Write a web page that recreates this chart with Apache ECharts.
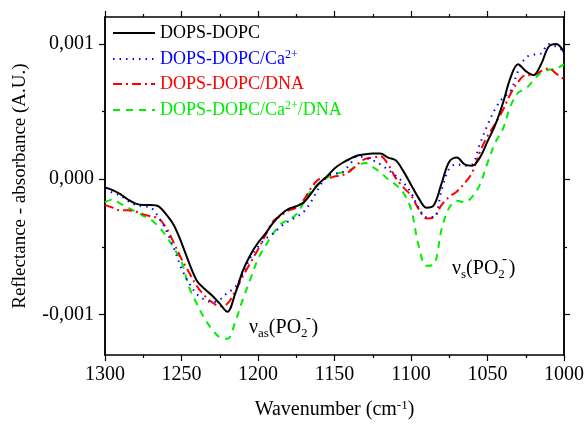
<!DOCTYPE html>
<html>
<head>
<meta charset="utf-8">
<script src="https://cdn.jsdelivr.net/npm/echarts@6/dist/echarts.min.js"></script>
<style>
	html, body { margin: 0; padding: 0; background: #fff; }
	#container { width: 587px; height: 425px; }
</style>
</head>
<body>
<div id="container"></div>
<script>
// wavenumbers (cm-1), step 5
var waves = [1300, 1295, 1290, 1285, 1280, 1275, 1270, 1265, 1260, 1255,
	1250, 1245, 1240, 1235, 1230, 1225, 1220, 1215, 1210, 1205,
	1200, 1195, 1190, 1185, 1180, 1175, 1170, 1165, 1160, 1155,
	1150, 1145, 1140, 1135, 1130, 1125, 1120, 1115, 1110, 1105,
	1100, 1095, 1090, 1085, 1080, 1075, 1070, 1065, 1060, 1055,
	1050, 1045, 1040, 1035, 1030, 1025, 1020, 1015, 1010, 1005, 1000];

// values in units of 0,001 A.U.
var dopsDopc = [-0.06, -0.08, -0.11, -0.15, -0.18, -0.19, -0.19, -0.20, -0.26, -0.34,
	-0.47, -0.62, -0.75, -0.81, -0.86, -0.92, -0.98, -0.85, -0.68, -0.56,
	-0.47, -0.40, -0.32, -0.26, -0.22, -0.20, -0.17, -0.10, -0.03, 0.02,
	0.08, 0.12, 0.15, 0.175, 0.185, 0.19, 0.19, 0.16, 0.14, 0.06,
	-0.04, -0.14, -0.21, -0.19, -0.03, 0.13, 0.16, 0.11, 0.10, 0.16,
	0.28, 0.40, 0.56, 0.75, 0.85, 0.80, 0.77, 0.85, 0.98, 1.00, 0.94];

var dopsDopcCa = [-0.07, -0.10, -0.12, -0.16, -0.19, -0.20, -0.21, -0.28, -0.38, -0.51,
	-0.66, -0.77, -0.85, -0.89, -0.91, -0.89, -0.84, -0.80, -0.70, -0.58,
	-0.50, -0.44, -0.40, -0.35, -0.31, -0.28, -0.24, -0.16, -0.06, 0.02,
	0.04, 0.05, 0.11, 0.17, 0.16, 0.14, 0.11, 0.07, 0.025, -0.025,
	-0.10, -0.21, -0.28, -0.28, -0.08, 0.08, 0.11, 0.10, 0.11, 0.26,
	0.40, 0.52, 0.60, 0.65, 0.80, 0.90, 0.92, 0.93, 1.00, 0.98, 0.95];

var dopsDopcDna = [-0.19, -0.21, -0.23, -0.23, -0.24, -0.26, -0.275, -0.29, -0.36, -0.47,
	-0.59, -0.69, -0.79, -0.86, -0.91, -0.94, -0.92, -0.83, -0.72, -0.62,
	-0.52, -0.41, -0.31, -0.27, -0.23, -0.21, -0.15, -0.06, 0.00, 0.005,
	0.02, 0.03, 0.06, 0.11, 0.15, 0.16, 0.17, 0.11, 0.01, -0.06,
	-0.12, -0.22, -0.29, -0.28, -0.19, -0.13, -0.09, -0.03, 0.05, 0.20,
	0.32, 0.41, 0.51, 0.63, 0.72, 0.77, 0.77, 0.80, 0.82, 0.78, 0.74];

var dopsDopcCaDna = [-0.17, -0.15, -0.18, -0.21, -0.24, -0.27, -0.30, -0.35, -0.42, -0.51,
	-0.61, -0.80, -0.92, -1.03, -1.11, -1.17, -1.18, -1.06, -0.89, -0.74,
	-0.59, -0.49, -0.40, -0.33, -0.30, -0.26, -0.17, -0.08, -0.03, 0.01,
	0.04, 0.05, 0.07, 0.10, 0.12, 0.09, 0.05, 0.00, -0.04, -0.10,
	-0.22, -0.49, -0.64, -0.63, -0.37, -0.21, -0.16, -0.17, -0.13, -0.04,
	0.12, 0.27, 0.37, 0.54, 0.64, 0.67, 0.73, 0.79, 0.81, 0.82, 0.85];

var yMajorTicks = [-1, 0, 1];
var yMinorTicks = [-0.5, 0.5];

var seriesNames = ['DOPS-DOPC', 'DOPS-DOPC/Ca2+', 'DOPS-DOPC/DNA', 'DOPS-DOPC/Ca2+/DNA'];
var seriesValues = [dopsDopc, dopsDopcCa, dopsDopcDna, dopsDopcCaDna];
var seriesColors = ['#000000', '#0000ff', '#ff0000', '#00ee00'];
var seriesDash = ['solid', [1.5, 5], [9, 4, 2, 4], [7, 6]];

var serif = 'Liberation Serif';

function pairs(vals) {
	var out = [];
	for (var i = 0; i < waves.length; i++) {
		out.push([waves[i], vals[i]]);
	}
	return out;
}

// axis label: 1 -> 0,001
function fmtY(v) {
	return (v / 1000).toFixed(3).replace('.', ',');
}

var legendText = {
	'DOPS-DOPC': '{k|DOPS-DOPC}',
	'DOPS-DOPC/Ca2+': '{b|DOPS-DOPC/Ca}{bs|2+}',
	'DOPS-DOPC/DNA': '{r|DOPS-DOPC/DNA}',
	'DOPS-DOPC/Ca2+/DNA': '{g|DOPS-DOPC/Ca}{gs|2+}{g|/DNA}'
};

var dom = document.getElementById('container');
var myChart = echarts.init(dom, null, { renderer: 'canvas' });

var xBase = {
	type : 'value',
	min : 1000,
	max : 1300,
	interval : 50,
	inverse : true,
	splitLine : { show : false },
	axisLine : { show : true, onZero : false, lineStyle : { color : '#000', width : 1.5 } },
	axisTick : { show : true, length : 6, lineStyle : { color : '#000', width : 1.2 } },
	minorTick : { show : true, splitNumber : 2, length : 3, lineStyle : { color : '#000', width : 1.2 } }
};

function yAxisDef(pos, ticks, len, labels) {
	return {
		type : 'value',
		position : pos,
		min : -1.3,
		max : 1.2,
		splitLine : { show : false },
		axisLine : { show : true, onZero : false, lineStyle : { color : '#000', width : 1.5 } },
		axisTick : { show : true, customValues : ticks, length : len, lineStyle : { color : '#000', width : 1.2 } },
		axisLabel : labels ? {
			show : true,
			customValues : yMajorTicks,
			formatter : fmtY,
			margin : 11,
			color : '#000',
			fontFamily : serif,
			fontSize : 20
		} : { show : false }
	};
}

var series = [];
for (var i = 0; i < seriesNames.length; i++) {
	series.push({
		name : seriesNames[i],
		type : 'line',
		xAxisIndex : 0,
		yAxisIndex : 0,
		smooth : 0.35,
		symbol : 'none',
		color : seriesColors[i],
		lineStyle : { color : seriesColors[i], width : 2, type : seriesDash[i] },
		z : 10 - i,
		data : pairs(seriesValues[i])
	});
}

// bottom axis with labels and title
var xBottom = JSON.parse(JSON.stringify(xBase));
xBottom.position = 'bottom';
xBottom.axisLabel = {
	show : true, margin : 10, color : '#000', fontFamily : serif, fontSize : 20,
	formatter : function(v) { return String(v); }
};
xBottom.name = '{a|Wavenumber (cm}{s|-1}{a|)}';
xBottom.nameLocation = 'middle';
xBottom.nameGap = 44;
xBottom.nameTextStyle = {
	rich : {
		a : { fontFamily : serif, fontSize : 20, color : '#000', lineHeight : 22 },
		s : { fontFamily : serif, fontSize : 13, color : '#000', lineHeight : 22, verticalAlign : 'top' }
	}
};
// mirrored top axis
var xTop = JSON.parse(JSON.stringify(xBase));
xTop.position = 'top';
xTop.axisLabel = { show : false };

var yLeft = yAxisDef('left', yMajorTicks, 6, true);
yLeft.name = 'Reflectance - absorbance (A.U.)';
yLeft.nameLocation = 'middle';
yLeft.nameGap = 75;
yLeft.nameTextStyle = { fontFamily : serif, fontSize : 19, color : '#000' };

// band annotations
var annRich = {
	n : { fontFamily : serif, fontSize : 20, fill : '#000', lineHeight : 24 },
	sub : { fontFamily : serif, fontSize : 13, fill : '#000', lineHeight : 24, verticalAlign : 'bottom' },
	sp : { fontFamily : serif, fontSize : 13, fill : '#000', lineHeight : 24, width : 4 }
};

var option = {
	animation : false,
	backgroundColor : '#fff',
	grid : { left : 105, right : 21, top : 17, bottom : 69 },
	legend : {
		orient : 'vertical',
		left : 112,
		top : 24,
		padding : 0,
		itemWidth : 42,
		itemHeight : 12,
		itemGap : 7,
		itemStyle : { opacity : 0 },
		data : seriesNames,
		formatter : function(name) {
			return legendText[name];
		},
		textStyle : {
			fontFamily : serif,
			fontSize : 18,
			rich : {
				k : { color : '#000', fontFamily : serif, fontSize : 18, lineHeight : 20 },
				b : { color : '#0000ff', fontFamily : serif, fontSize : 18, lineHeight : 20 },
				bs : { color : '#0000ff', fontFamily : serif, fontSize : 12, lineHeight : 20, verticalAlign : 'top' },
				r : { color : '#ff0000', fontFamily : serif, fontSize : 18, lineHeight : 20 },
				g : { color : '#00ee00', fontFamily : serif, fontSize : 18, lineHeight : 20 },
				gs : { color : '#00ee00', fontFamily : serif, fontSize : 12, lineHeight : 20, verticalAlign : 'top' }
			}
		}
	},
	xAxis : [xBottom, xTop],
	yAxis : [
		yLeft,
		yAxisDef('left', yMinorTicks, 3, false),
		yAxisDef('right', yMajorTicks, 6, false),
		yAxisDef('right', yMinorTicks, 3, false)
	],
	graphic : [
		{
			type : 'text', left : 249, top : 318, z : 100,
			style : { text : '{n|ν}{sub|as}{n|(PO}{sub|2}{sp| }{n|)}', rich : annRich }
		},
		{
			type : 'text', left : 306, top : 311, z : 100,
			style : { text : '-', fontFamily : serif, fontSize : 15, fill : '#000' }
		},
		{
			type : 'text', left : 452, top : 259, z : 100,
			style : { text : '{n|ν}{sub|s}{n|(PO}{sub|2}{sp| }{n|)}', rich : annRich }
		},
		{
			type : 'text', left : 502, top : 252, z : 100,
			style : { text : '-', fontFamily : serif, fontSize : 15, fill : '#000' }
		}
	],
	series : series
};

if (option && typeof option === 'object') {
	myChart.setOption(option, true);
}
</script>
</body>
</html>
